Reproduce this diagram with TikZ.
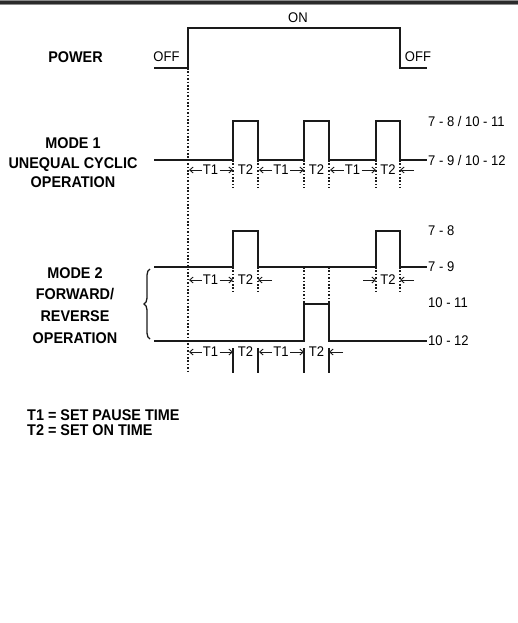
\documentclass[tikz,border=0pt]{standalone}
\usepackage{fontspec}
\setmainfont{Liberation Sans}[FakeStretch=0.93]
\usetikzlibrary{arrows.meta,decorations.pathreplacing}
\definecolor{ink}    {HTML}{1A1A1A}
\definecolor{barmid} {HTML}{2B2B2B}
\definecolor{baredge}{HTML}{8C8C8C}

\tikzset{
  wave/.style={ink,line width=2.7pt,line join=miter},
  guide/.style={ink,line width=1.2pt,dash pattern=on 1.6pt off 1.8pt},
  tick/.style={ink,line width=2.4pt},
  dim/.style={ink,line width=0.9pt,-{Straight Barb[length=3.5pt,width=6pt]}},
  tlab/.style={font=\fontsize{14}{14}\selectfont,inner sep=1.2pt},
  lvl/.style={font=\fontsize{14}{14}\selectfont,anchor=west,inner sep=0pt},
  side/.style={font=\fontsize{15.5}{#1}\selectfont\bfseries,align=center,inner sep=0pt},
}

\begin{document}
\begin{tikzpicture}[x=1pt,y=-1pt]
        \useasboundingbox (0,0) rectangle (518,623);
        \fill[baredge] (0,0) rectangle (518,5.5);
        \fill[barmid] (0,1.5) rectangle (518,4.5);

        % power
        \node[side=15] (power) at (75.5,57) {POWER};
        \draw[wave] (154,68) -| (188,28) -| (400,68) -- (427,68);
        \node[tlab] (on) at (298,17.5) {ON};
        \node[tlab] (offa) at (166.5,57) {OFF};
        \node[tlab] (offb) at (418,57) {OFF};
        \draw[guide] (188,68) -- (188,373);

        % mode 1
        \node[side=19.5] (modeone) at (73,163) {MODE 1\\UNEQUAL CYCLIC\\OPERATION};
        \draw[wave] (154,160) -| (233,121) -| (258,160) -| (304,121) -| (329,160) -| (376,121) -| (400,160) -- (427,160);
        \foreach \x in {233,258,304,329,376,400} {
          \draw[guide] (\x,160) -- (\x,188);
        }
        \foreach \a/\b [count=\i] in {188/233,258/304,329/376} {
          \node[tlab] (ma\i) at ({(\a+\b)/2},170) {T1};
          \draw[dim] (ma\i.west) -- (\a+1,170);
          \draw[dim] (ma\i.east) -- (\b,170);
        }
        \foreach \a/\b [count=\i] in {233/258,304/329,376/400} {
          \node[tlab] (mb\i) at ({(\a+\b)/2},170) {T2};
        }
        \coordinate (mend) at (414,170);
        \draw[dim] (mend) -- (400,170);
        \node[lvl] (lvla) at (428,121) {7 - 8 / 10 - 11};
        \node[lvl] (lvlb) at (428,160) {7 - 9 / 10 - 12};

        % mode 2
        \node[side=21.7] (modetwo) at (75,305.5) {MODE 2\\FORWARD/\\REVERSE\\OPERATION};
        \draw[ink,line width=1.3pt,decorate,decoration={brace,amplitude=6pt}] (150,339) -- (150,269);
        \draw[wave] (154,267) -| (233,231) -| (258,267) -| (376,231) -| (400,267) -- (427,267);
        \draw[wave] (154,341) -| (304,304) -| (329,341) -- (427,341);
        \foreach \x in {233,258,376,400} {
          \draw[guide] (\x,267) -- (\x,293);
        }
        \foreach \x in {304,329} {
          \draw[guide] (\x,267) -- (\x,304);
        }
        \foreach \x in {233,258,304,329} {
          \draw[tick] (\x,348) -- (\x,373);
        }
        \node[tlab] (fa) at (210.5,280) {T1};
        \draw[dim] (fa.west) -- (189,280);
        \draw[dim] (fa.east) -- (233,280);
        \node[tlab] (fb) at (245.5,280) {T2};
        \coordinate (fbend) at (272,280);
        \draw[dim] (fbend) -- (258,280);
        \node[tlab] (fc) at (388,280) {T2};
        \coordinate (fcin) at (363,280);
        \coordinate (fcend) at (414,280);
        \draw[dim] (fcin) -- (376,280);
        \draw[dim] (fcend) -- (400,280);
        \foreach \a/\b [count=\i] in {188/233,258/304} {
          \node[tlab] (ra\i) at ({(\a+\b)/2},352) {T1};
          \draw[dim] (ra\i.west) -- (\a+1,352);
          \draw[dim] (ra\i.east) -- (\b,352);
        }
        \foreach \a/\b [count=\i] in {233/258,304/329} {
          \node[tlab] (rb\i) at ({(\a+\b)/2},352) {T2};
        }
        \coordinate (rend) at (343,352);
        \draw[dim] (rend) -- (329,352);
        \node[lvl] (lvlc) at (428,231) {7 - 8};
        \node[lvl] (lvld) at (428,267) {7 - 9};
        \node[lvl] (lvle) at (428,303) {10 - 11};
        \node[lvl] (lvlf) at (428,341) {10 - 12};

        % notes
        \node[side=15,anchor=west] (notea) at (27,415) {T1 = SET PAUSE TIME};
        \node[side=15,anchor=west] (noteb) at (27,430) {T2 = SET ON TIME};
\end{tikzpicture}
\end{document}
